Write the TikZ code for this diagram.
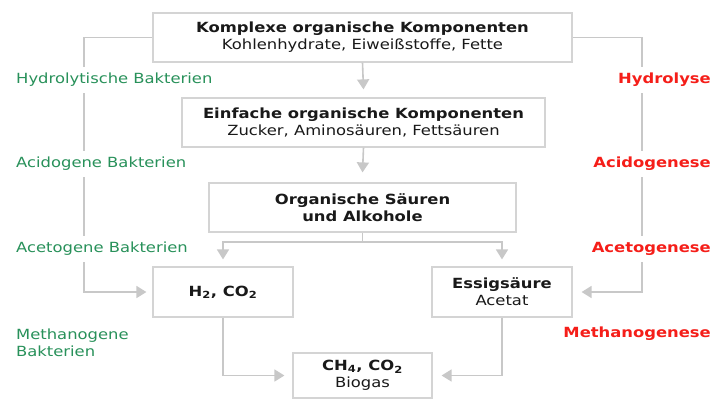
\documentclass[tikz,border=0pt]{standalone}
\usepackage{fontspec}
\setmainfont[FakeStretch=1.17]{DejaVu Sans}
\usetikzlibrary{arrows.meta}
\definecolor{lgray}{RGB}{200,200,200}
\definecolor{bgray}{RGB}{212,212,212}
\definecolor{agreen}{RGB}{40,145,90}
\definecolor{ared}{RGB}{245,30,25}
\definecolor{txt}{RGB}{25,25,25}
\tikzset{
  box/.style={draw=bgray, line width=1.2pt, fill=white, align=center, text=txt, inner sep=0pt, font=\fontsize{14}{17}\selectfont},
  conn/.style={draw=lgray, line width=1.6pt},
  arr/.style={conn, -{Triangle[length=10pt,width=12pt]}},
  glabel/.style={text=agreen, anchor=west, fill=white, inner xsep=2pt, inner ysep=6pt, align=left, font=\fontsize{14}{17}\selectfont},
  rlabel/.style={text=ared, anchor=east, fill=white, inner xsep=2pt, inner ysep=6pt, font=\bfseries\fontsize{14}{17}\selectfont},
}
\begin{document}
\begin{tikzpicture}[x=1pt,y=-1pt]
\useasboundingbox[fill=white] (0,0) rectangle (713,399);
\begin{scope}
\clip (0,0) rectangle (713,399);
% boxes
\node[box, minimum width=419pt, minimum height=49pt] (b1) at (362.5,37.5)
  {\textbf{Komplexe organische Komponenten}\\Kohlenhydrate, Eiweißstoffe, Fette};
\node[box, minimum width=363pt, minimum height=49pt] (b2) at (363.5,122.5)
  {\textbf{Einfache organische Komponenten}\\Zucker, Aminosäuren, Fettsäuren};
\node[box, minimum width=307pt, minimum height=49pt] (b3) at (362.5,207.5)
  {\textbf{Organische Säuren}\\\textbf{und Alkohole}};
\node[box, minimum width=140pt, minimum height=50pt] (h2) at (223,292)
  {\textbf{H\textsubscript{2}, CO\textsubscript{2}}};
\node[box, minimum width=140pt, minimum height=50pt] (es) at (502,292)
  {\textbf{Essigsäure}\\Acetat};
\node[box, minimum width=139pt, minimum height=45pt] (ch) at (362.5,375.5)
  {\textbf{CH\textsubscript{4}, CO\textsubscript{2}}\\Biogas};

% helper coordinates
\coordinate (L) at (84,292);
\coordinate (R) at (642,292);
\coordinate (S) at (362.5,242);

% central arrows
\draw[arr] (b1.south) -- ([yshift=8pt]b2.north);
\draw[arr] (b2.south) -- ([yshift=10pt]b3.north);
\draw[conn] (b3.south) -- (S);
\draw[arr] (S) -| ([yshift=7pt]h2.north);
\draw[arr] (S) -| ([yshift=7pt]es.north);

% side lines
\draw[arr] (b1.west) -| (L) -- ([xshift=-6pt]h2.west);
\draw[arr] (b1.east) -| (R) -- ([xshift=9pt]es.east);

% bottom arrows
\draw[arr] (h2.south) |- ([xshift=-8pt]ch.west);
\draw[arr] (es.south) |- ([xshift=9pt]ch.east);

% labels left
\node[glabel] (l1) at (14,80) {Hydrolytische Bakterien};
\node[glabel] (l2) at (14,164) {Acidogene Bakterien};
\node[glabel] (l3) at (14,249) {Acetogene Bakterien};
\node[glabel] (l4) at (14,342.5) {Methanogene\\Bakterien};

% labels right
\node[rlabel] (r1) at (713,80) {Hydrolyse};
\node[rlabel] (r2) at (713,164) {Acidogenese};
\node[rlabel] (r3) at (713,249) {Acetogenese};
\node[rlabel] (r4) at (713,334) {Methanogenese};
\end{scope}
\end{tikzpicture}
\end{document}
